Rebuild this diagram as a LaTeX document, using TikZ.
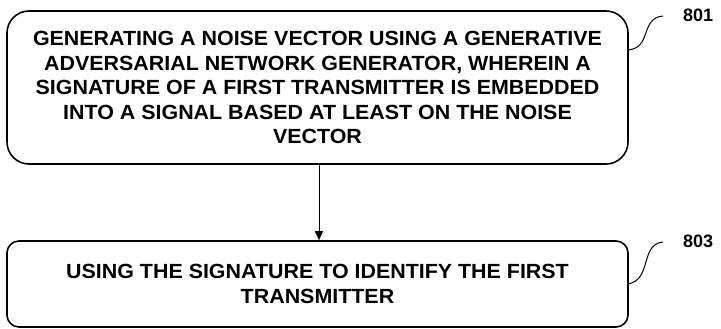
\documentclass[tikz,border=0pt]{standalone}
\usepackage{fontspec}
\setmainfont{Liberation Sans}
\newfontfamily\boxfont[FakeStretch=1.045]{Liberation Sans}
\usetikzlibrary{arrows.meta}
\begin{document}
\begin{tikzpicture}[x=1pt,y=1pt,
  stepbox/.style={draw, line width=1.6pt, align=center, font=\boxfont\bfseries\fontsize{20.5}{24.5}\selectfont, inner sep=0pt},
  reflabel/.style={font=\bfseries\fontsize{18}{20}\selectfont, anchor=west, inner sep=0pt},
  leader/.style={line width=1pt},
  conn/.style={line width=0.9pt, -{Triangle[length=9pt,width=8pt]}}]
\useasboundingbox (0,0) rectangle (721,-329);
\node[stepbox, rounded corners=22pt, minimum width=621pt, minimum height=153pt] (b1) at (317.5,-87.5)
 {GENERATING A NOISE VECTOR USING A GENERATIVE\\ADVERSARIAL NETWORK GENERATOR, WHEREIN A\\SIGNATURE OF A FIRST TRANSMITTER IS EMBEDDED\\INTO A SIGNAL BASED AT LEAST ON THE NOISE\\VECTOR};
\node[stepbox, rounded corners=12pt, minimum width=621pt, minimum height=86pt] (b2) at (317.5,-284)
 {USING THE SIGNATURE TO IDENTIFY THE FIRST\\TRANSMITTER};
\draw[conn] (b1.south -| 319,0) -- (b2.north -| 319,0);
\node[reflabel] (l1) at (683,-15) {801};
\node[reflabel] (l2) at (683,-241) {803};
\coordinate (s1) at (628,-50);
\coordinate (e1) at (663,-16);
\coordinate (s2) at (628,-284);
\coordinate (e2) at (663,-242);
\draw[leader] (s1) .. controls (652,-48) and (640,-18) .. (e1);
\draw[leader] (s2) .. controls (652,-280) and (640,-244) .. (e2);
\end{tikzpicture}
\end{document}
